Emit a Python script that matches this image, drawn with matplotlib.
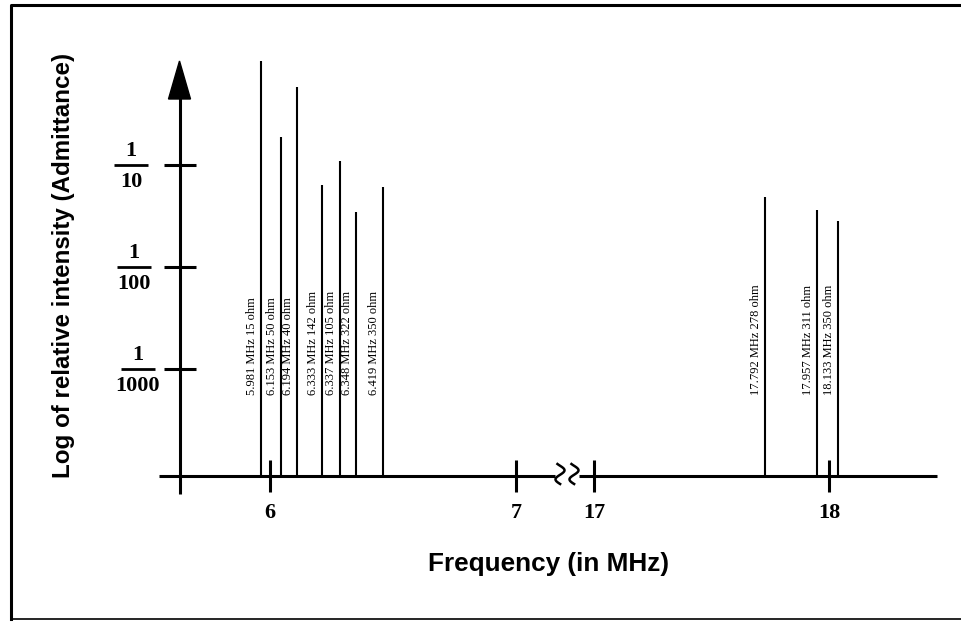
import matplotlib
matplotlib.use("Agg")
import matplotlib.pyplot as plt
from matplotlib.ticker import NullLocator, FixedLocator
import numpy as np

# data
freq_mhz = [5.981, 6.153, 6.194, 6.333, 6.337, 6.348, 6.419, 17.792, 17.957, 18.133]
impedance_ohm = [15, 50, 40, 142, 105, 322, 350, 278, 311, 350]
rel_intensity = [1.05, 0.19, 0.58, 0.064, 0.11, 0.035, 0.061, 0.049, 0.036, 0.028]

freq_ticks = [6, 7, 17, 18]
freq_tick_labels = ["6", "7", "17", "18"]
intensity_ticks = [0.1, 0.01, 0.001]
intensity_denoms = ["10", "100", "1000"]

BASELINE = 10 ** -4.05  # where the frequency axis sits

W, H = 961, 630

# the drawing is a sketch, not to scale: frequency -> pixel column
sk_freq = [4.0, 5.0, 5.981, 6.0, 6.153, 6.194, 6.333, 6.337, 6.348, 6.419,
           7.0, 17.0, 17.792, 17.957, 18.0, 18.133, 19.0, 20.0]
sk_px = [-223, 23, 261, 269.5, 281, 297, 322, 340, 356, 383,
         516, 594, 765, 817, 829, 838, 1062, 1295]


def fwd(f):
    return np.interp(f, sk_freq, sk_px)


def inv(p):
    return np.interp(p, sk_px, sk_freq)


def px2log(py):
    # 1/10 at row 165, one decade every 102 px
    return 10 ** (-1 - (py - 165) / 102.0)


serif = "Liberation Serif"
sans = "Liberation Sans"

fig = plt.figure(figsize=(W / 100, H / 100), dpi=100)
ax = fig.add_axes([0, 0, 1, 1])
ax.set_xscale("function", functions=(fwd, inv))
ax.set_yscale("log")
ax.set_xlim(inv(0), inv(W))
ax.set_ylim(px2log(H), px2log(0))

# spectral lines
ax.vlines(freq_mhz, BASELINE, rel_intensity, colors="black", linewidth=1.5)
for f, r in zip(freq_mhz, impedance_ohm):
    ax.annotate("%.3f MHz %d ohm" % (f, r), xy=(f, BASELINE),
                xytext=(-2, 58.3), textcoords="offset points",
                rotation=90, ha="right", va="bottom",
                family=serif, fontsize=9)

# ticks on invisible spines, axis lines drawn below by hand
for s in ax.spines.values():
    s.set_color("none")
ax.spines["left"].set_position(("axes", 179.5 / W))
ax.spines["bottom"].set_position(("data", BASELINE))
ax.xaxis.set_major_locator(FixedLocator(freq_ticks))
ax.xaxis.set_minor_locator(NullLocator())
ax.set_xticklabels(freq_tick_labels, family=serif, fontweight="bold", fontsize=16)
ax.yaxis.set_major_locator(FixedLocator(intensity_ticks))
ax.yaxis.set_minor_locator(NullLocator())
ax.set_yticklabels([""] * len(intensity_ticks))
ax.tick_params(axis="x", direction="inout", length=23, width=2.2, pad=8)
ax.tick_params(axis="y", direction="inout", length=23.5, width=2.2)

# fraction labels for the intensity ticks
frac_x = [131, 134, 137.5]
for y, den, cx in zip(intensity_ticks, intensity_denoms, frac_x):
    tr = ax.get_yaxis_transform()
    xa = cx / W
    ax.annotate("1", xy=(xa, y), xycoords=tr, xytext=(0, 10), textcoords="offset points",
                ha="center", va="center", family=serif, fontweight="bold", fontsize=16)
    ax.annotate(den, xy=(xa, y), xycoords=tr, xytext=(0, -12.5), textcoords="offset points",
                ha="center", va="center", family=serif, fontweight="bold", fontsize=16)
    ax.plot([xa - 17 / W, xa + 17 / W], [y, y], transform=tr, color="black",
            linewidth=2, solid_capstyle="butt")

# overlay in pixel units for the hand-drawn parts
deco = fig.add_axes([0, 0, 1, 1], facecolor="none")
deco.set_xlim(0, W)
deco.set_ylim(H, 0)
deco.axis("off")

lw = 2.2
# vertical axis with arrow
deco.plot([179.5, 179.5], [494, 96], color="black", linewidth=lw, solid_capstyle="butt")
deco.fill([179.5, 168.5, 190.5], [61, 99, 99], color="black")
# horizontal axis with break
deco.plot([159, 555], [476, 476], color="black", linewidth=lw, solid_capstyle="butt")
deco.plot([579, 937], [476, 476], color="black", linewidth=lw, solid_capstyle="butt")
s = np.linspace(0, 1.1, 60)
for cx in [560, 574]:
    deco.plot(cx + 4.5 * np.sin(2 * np.pi * s - 0.6), 464 + 20 * s / 1.1,
              color="black", linewidth=1.8)

# outer frame
deco.plot([10.5, 10.5, W], [619, 5, 5], color="black", linewidth=2.2)
deco.plot([10.5, W], [619, 619], color="black", linewidth=1.2)

# axis titles
fig.text(64 / W, 1 - 265 / H, "Log of relative intensity (Admittance)", rotation=90,
         ha="center", va="center", family=sans, fontweight="bold", fontsize=17.4)
fig.text(548 / W, 1 - 564 / H, "Frequency (in MHz)", ha="center", va="center",
         family=sans, fontweight="bold", fontsize=18.8)

fig.savefig("out.png", dpi=100)
